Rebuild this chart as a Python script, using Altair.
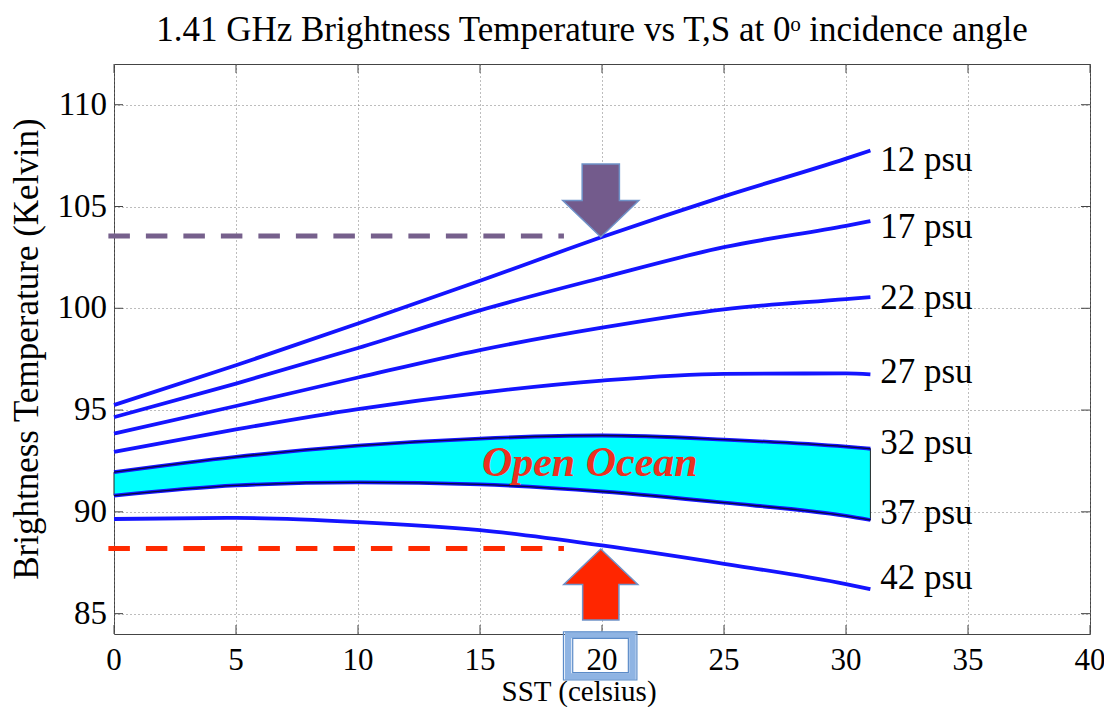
import altair as alt
import pandas as pd

# ---------------- data ----------------
sst = [0, 5, 10, 15, 20, 25, 30, 31]
salinities = ["12 psu", "17 psu", "22 psu", "27 psu", "32 psu", "37 psu", "42 psu"]
tb_12 = [95.25, 97.2, 99.25, 101.35, 103.5, 105.5, 107.35, 107.75]
tb_17 = [94.65, 96.3, 98.05, 99.9, 101.5, 103.0, 104.05, 104.28]
tb_22 = [93.85, 95.2, 96.6, 97.95, 99.05, 99.95, 100.45, 100.55]
tb_27 = [92.95, 94.05, 95.05, 95.85, 96.45, 96.78, 96.8, 96.75]
tb_32 = [91.95, 92.7, 93.25, 93.6, 93.75, 93.55, 93.2, 93.1]
tb_37 = [90.8, 91.3, 91.45, 91.35, 91.0, 90.45, 89.8, 89.6]
tb_42 = [89.65, 89.7, 89.5, 89.1, 88.35, 87.45, 86.45, 86.2]

label_x = 31.4
label_y = [107.28, 104.01, 100.51, 96.89, 93.39, 89.95, 86.75]

x_ticks = [0, 5, 10, 15, 20, 25, 30, 35, 40]
y_ticks = [85, 90, 95, 100, 105, 110]
x_domain = [0, 40]
y_domain = [84, 112]

x_title = "SST (celsius)"
y_title = "Brightness Temperature (Kelvin)"
main_title = "1.41 GHz Brightness Temperature vs T,S at 0ᵒ incidence angle"

# annotations (data units)
purple_level = 103.55
red_level = 88.2
dash_from = -0.23
dash_to = 18.44
arrow_x = 19.95
purple_arrow_y = 105.29
red_arrow_y = 86.43
ocean_x = 19.5
ocean_y = 92.4
box_mid_x = [18.61, 21.25]
box_mid_y = [81.91, 83.95]
box_out_x = [18.42, 21.43]
box_out_y = [81.74, 84.11]
box_in_x = [18.80, 21.08]
box_in_y = [82.10, 83.79]
x_title_pos = 19.06
y_title_pos = (-3.1, 98.0)

FONT = "Liberation Serif"
BLUE = "#1414ff"

series = [tb_12, tb_17, tb_22, tb_27, tb_32, tb_37, tb_42]
rows = []
for name, vals in zip(salinities, series):
    for s, v in zip(sst, vals):
        rows.append({"sst": s, "tb": v, "sal": name})
df = pd.DataFrame(rows)
band = pd.DataFrame({"sst": sst, "hi": tb_32, "lo": tb_37})
labels = pd.DataFrame({"x": [label_x] * len(salinities), "y": label_y, "text": salinities})

xs = alt.Scale(domain=x_domain, nice=False, zero=False)
ys = alt.Scale(domain=y_domain, nice=False, zero=False)

x_axis = alt.Axis(values=x_ticks, grid=True, gridDash=[1, 3], gridColor="#7a7a7a",
                  domain=False, ticks=False, labels=False, title=None)
y_axis = alt.Axis(values=y_ticks, grid=True, gridDash=[1, 3], gridColor="#7a7a7a",
                  domain=False, ticks=False, labels=False, title=None)


def X(field):
    return alt.X(field, scale=xs)


def Y(field):
    return alt.Y(field, scale=ys)


# open ocean band (carries the grid)
area = alt.Chart(band).mark_area(color="#00ffff", opacity=1, stroke="#222", strokeWidth=1,
                                 interpolate="monotone").encode(
    x=alt.X("sst:Q", scale=xs, axis=x_axis),
    y=alt.Y("hi:Q", scale=ys, axis=y_axis),
    y2="lo:Q",
)

# inward ticks on all four sides
tx = pd.DataFrame({"v": x_ticks})
ty = pd.DataFrame({"v": y_ticks})
tk = 0.37  # x-units
tky = 0.44  # y-units
tick_layers = [
    alt.Chart(tx).mark_rule(color="#444", strokeWidth=1).encode(
        x=X("v:Q"), y=Y("y0:Q"), y2="y1:Q"
    ).transform_calculate(y0=str(y_domain[0]), y1=str(y_domain[0] + tky)),
    alt.Chart(tx).mark_rule(color="#444", strokeWidth=1).encode(
        x=X("v:Q"), y=Y("y0:Q"), y2="y1:Q"
    ).transform_calculate(y0=str(y_domain[1] - tky), y1=str(y_domain[1])),
    alt.Chart(ty).mark_rule(color="#444", strokeWidth=1).encode(
        y=Y("v:Q"), x=X("x0:Q"), x2="x1:Q"
    ).transform_calculate(x0=str(x_domain[0]), x1=str(x_domain[0] + tk)),
    alt.Chart(ty).mark_rule(color="#444", strokeWidth=1).encode(
        y=Y("v:Q"), x=X("x0:Q"), x2="x1:Q"
    ).transform_calculate(x0=str(x_domain[1] - tk), x1=str(x_domain[1])),
]

# tick labels as text marks
x_labels = alt.Chart(tx).mark_text(font=FONT, fontSize=31, color="black", align="center",
                                   baseline="middle", dy=27).encode(
    x=X("v:Q"), y=Y("y0:Q"), text=alt.Text("v:Q", format="d")
).transform_calculate(y0=str(y_domain[0]))
y_labels = alt.Chart(ty).mark_text(font=FONT, fontSize=33, color="black", align="right",
                                   baseline="middle", dx=-7).encode(
    x=X("x0:Q"), y=Y("v:Q"), text=alt.Text("v:Q", format="d")
).transform_calculate(x0=str(x_domain[0]))

xt = alt.Chart(pd.DataFrame({"x": [x_title_pos], "y": [y_domain[0]], "t": [x_title]})).mark_text(
    font=FONT, fontSize=29, color="black", align="center", baseline="alphabetic", dy=67).encode(
    x=X("x:Q"), y=Y("y:Q"), text="t:N")
yt = alt.Chart(pd.DataFrame({"x": [y_title_pos[0]], "y": [y_title_pos[1]], "t": [y_title]})).mark_text(
    font=FONT, fontSize=35, color="black", align="center", baseline="alphabetic", angle=270).encode(
    x=X("x:Q"), y=Y("y:Q"), text="t:N")

lines = alt.Chart(df).mark_line(color=BLUE, strokeWidth=3.8, interpolate="monotone").encode(
    x=X("sst:Q"), y=Y("tb:Q"), detail="sal:N",
)
band_edges = alt.Chart(df).transform_filter(
    alt.FieldOneOfPredicate(field="sal", oneOf=["32 psu", "37 psu"])
).mark_line(color="#0a0a40", strokeWidth=1.3, interpolate="monotone").encode(
    x=X("sst:Q"), y=Y("tb:Q"), detail="sal:N",
)

psu_text = alt.Chart(labels).mark_text(font=FONT, fontSize=35, align="left", baseline="middle",
                                       color="black").encode(
    x=X("x:Q"), y=Y("y:Q"), text="text:N")

# dashed reference levels
dash_df = pd.DataFrame({"x0": [dash_from, dash_from], "x1": [dash_to, dash_to],
                        "y": [purple_level, red_level], "c": ["#76608c", "#ff2a00"]})
dashes = alt.Chart(dash_df).mark_rule(strokeWidth=5, strokeDash=[21.5, 16]).encode(
    x=X("x0:Q"), x2="x1:Q", y=Y("y:Q"),
    color=alt.Color("c:N", scale=None, legend=None),
)

down_path = "M -0.49 -0.96 L 0.49 -0.96 L 0.49 0 L 1 0 L 0 0.96 L -1 0 L -0.49 0 Z"
up_path = "M 0 -0.96 L 1 0 L 0.49 0 L 0.49 0.96 L -0.49 0.96 L -0.49 0 L -1 0 Z"
arrow_down = alt.Chart(pd.DataFrame({"x": [arrow_x], "y": [purple_arrow_y]})).mark_point(
    shape=down_path, filled=True, size=5776, fill="#735b8c", stroke="#6f92c8",
    strokeWidth=1.5, opacity=1).encode(x=X("x:Q"), y=Y("y:Q"))
arrow_up = alt.Chart(pd.DataFrame({"x": [arrow_x], "y": [red_arrow_y]})).mark_point(
    shape=up_path, filled=True, size=5476, fill="#ff2600", stroke="#6f92c8",
    strokeWidth=1.5, opacity=1).encode(x=X("x:Q"), y=Y("y:Q"))

ocean = alt.Chart(pd.DataFrame({"x": [ocean_x], "y": [ocean_y], "t": ["Open Ocean"]})).mark_text(
    font=FONT, fontSize=42, fontStyle="italic", fontWeight="bold", color="#ec3020",
    align="center", baseline="middle").encode(x=X("x:Q"), y=Y("y:Q"), text="t:N")

box_df = pd.DataFrame({
    "x0": [box_mid_x[0], box_out_x[0], box_in_x[0]],
    "x1": [box_mid_x[1], box_out_x[1], box_in_x[1]],
    "y0": [box_mid_y[0], box_out_y[0], box_in_y[0]],
    "y1": [box_mid_y[1], box_out_y[1], box_in_y[1]],
    "c": ["#8fb4e3", "#5b8bc8", "#5b8bc8"],
    "w": [6.5, 1.2, 1.2],
})
box = alt.Chart(box_df).mark_rect(filled=False).encode(
    x=X("x0:Q"), x2="x1:Q", y=Y("y0:Q"), y2="y1:Q",
    stroke=alt.Stroke("c:N", scale=None, legend=None),
    strokeWidth=alt.StrokeWidth("w:Q", scale=None, legend=None),
)

chart = alt.layer(
    area, lines, band_edges, *tick_layers, dashes, arrow_down, arrow_up,
    ocean, psu_text, x_labels, y_labels, xt, yt, box,
).properties(
    width=976, height=570,
    title=alt.TitleParams(main_title, font=FONT, fontSize=35, fontWeight="normal",
                          color="black", anchor="middle", frame="group", offset=16, dx=-10),
    autosize=alt.AutoSizeParams(type="none"),
    padding={"left": 106, "top": 56, "right": 14, "bottom": 73},
).configure_view(stroke="#444", strokeWidth=1).configure_title(font=FONT)

chart.save("out.html", embed_options={"renderer": "svg", "actions": False})
